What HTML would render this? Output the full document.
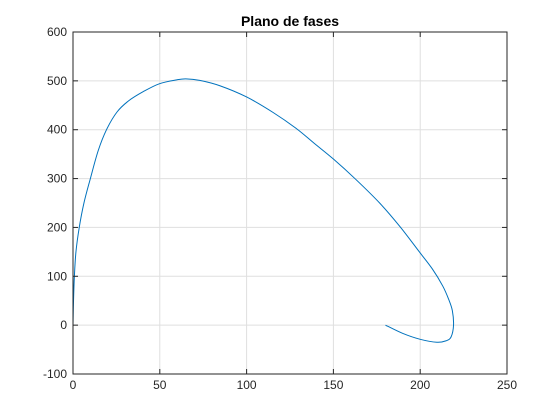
<!DOCTYPE html>
<html><head><meta charset="utf-8"><style>
body{margin:0;background:#fff}
svg{display:block;font-family:"Liberation Sans",sans-serif}
</style></head><body>
<svg id="chart" width="560" height="420" viewBox="0 0 560 420">
<rect width="560" height="420" fill="#fff"/>
<g id="grid"></g>
<g id="plot"></g>
<g id="axes"></g>
<text x="290" y="26" text-anchor="middle" font-size="14" font-weight="bold" fill="#000">Plano de fases</text>
</svg>
<script>
const xTicks=[0,50,100,150,200,250];
const yTicks=[-100,0,100,200,300,400,500,600];
const xs=[180,190,200,209.6,215,217.8,219.2,218.5,216.5,213,207,199.5,188.5,176.9,163,150,139,128.8,115.4,100,84.6,73,65,59.7,49.7,40.5,32,25.3,19.3,14.5,10,6.3,3.6,1.7,0.8,0.3,0];
const ys=[0,-17,-29,-35,-32,-24,0,30,52,80,115,150,201,249,298,340,372,402,435,467,490,501,504,502,494,478,459,436,400,357,300,250,200,150,100,50,0];
const L=73,R=507,T=32,B=374;
const sx=v=>L+(v-0)/(250-0)*(R-L);
const sy=v=>B-(v+100)/(700)*(B-T);
const NS="http://www.w3.org/2000/svg";
function mk(t,a,p){const e=document.createElementNS(NS,t);for(const k in a)e.setAttribute(k,a[k]);p.appendChild(e);return e;}
const grid=document.getElementById('grid'),axes=document.getElementById('axes'),plot=document.getElementById('plot');
xTicks.forEach(v=>{
 const g=mk('line',{x1:sx(v),x2:sx(v),y1:T,y2:B,stroke:'#dfdfdf','stroke-width':1},grid);
 
 
 mk('line',{x1:sx(v),x2:sx(v),y1:B,y2:B-5,stroke:'#262626'},axes);
 mk('line',{x1:sx(v),x2:sx(v),y1:T,y2:T+5,stroke:'#262626'},axes);
 const t=mk('text',{x:sx(v),y:B+15,'text-anchor':'middle','font-size':12,fill:'#262626'},axes);
 t.textContent=v;
 
 
});
yTicks.forEach(v=>{
 const g=mk('line',{x1:L,x2:R,y1:sy(v),y2:sy(v),stroke:'#dfdfdf','stroke-width':1},grid);
 
 
 mk('line',{x1:L,x2:L+5,y1:sy(v),y2:sy(v),stroke:'#262626'},axes);
 mk('line',{x1:R,x2:R-5,y1:sy(v),y2:sy(v),stroke:'#262626'},axes);
 const t=mk('text',{x:L-6,y:sy(v)+4,'text-anchor':'end','font-size':12,fill:'#262626'},axes);
 t.textContent=v;
 
 
});
const box=mk('rect',{x:L,y:T,width:R-L,height:B-T,fill:'none',stroke:'#262626','stroke-width':1},axes);


const P=xs.map((x,i)=>[sx(x),sy(ys[i])]);
let d='M'+P[0][0].toFixed(2)+','+P[0][1].toFixed(2);
for(let i=0;i<P.length-1;i++){
 const p0=P[Math.max(i-1,0)],p1=P[i],p2=P[i+1],p3=P[Math.min(i+2,P.length-1)];
 const c1=[p1[0]+(p2[0]-p0[0])/6,p1[1]+(p2[1]-p0[1])/6];
 const c2=[p2[0]-(p3[0]-p1[0])/6,p2[1]-(p3[1]-p1[1])/6];
 d+='C'+c1[0].toFixed(2)+','+c1[1].toFixed(2)+' '+c2[0].toFixed(2)+','+c2[1].toFixed(2)+' '+p2[0].toFixed(2)+','+p2[1].toFixed(2);
}
const p=mk('path',{d:d,fill:'none',stroke:'#0072bd','stroke-width':1,'stroke-linejoin':'round'},plot);


</script>
</body></html>
